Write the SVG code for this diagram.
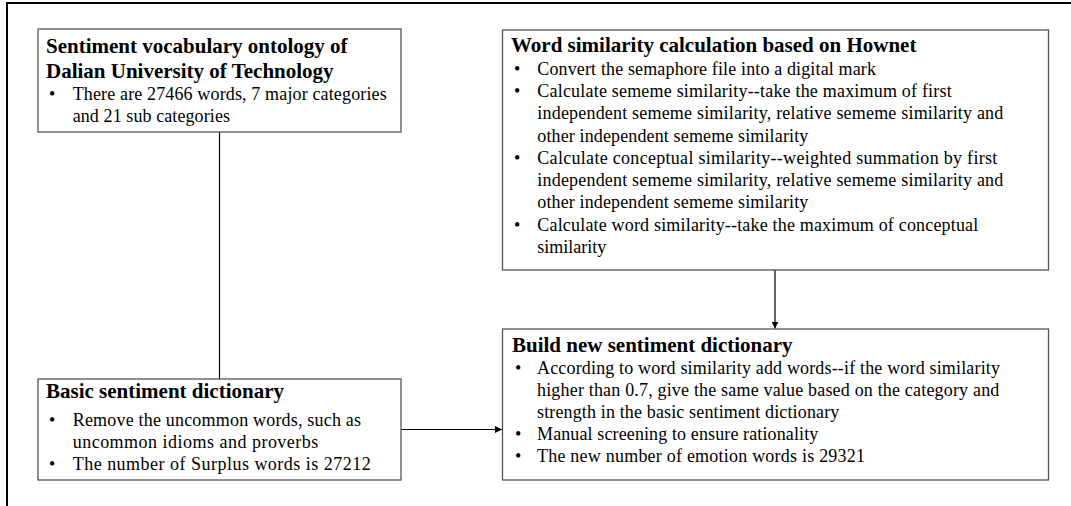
<svg xmlns="http://www.w3.org/2000/svg" width="1071" height="506" viewBox="0 0 1071 506">
<style>
.frame{fill:none;stroke:#000;stroke-width:2}
.box{fill:#fff;stroke:#555;stroke-width:1.3}
.t{font-family:"Liberation Serif","Times New Roman",serif;font-weight:bold;font-size:21px;fill:#000}
.b{font-family:"Liberation Serif","Times New Roman",serif;font-size:18px;fill:#000}
.c{fill:none;stroke:#000;stroke-width:1.2}
</style>
<defs>
<marker id="ah" viewBox="0 0 10 10" refX="10" refY="5" markerWidth="7" markerHeight="7" markerUnits="userSpaceOnUse" orient="auto">
<path d="M0,0 L10,5 L0,10 z" fill="#000"/>
</marker>
</defs>
<rect width="1071" height="506" fill="#fff"/>
<path class="frame" d="M7,600 V3 H1100"/>
<g id="connectors">
<line class="c" x1="219.5" y1="132" x2="219.5" y2="379"/>
<line class="c" x1="775" y1="270" x2="775" y2="328.5" marker-end="url(#ah)"/>
<line class="c" x1="401" y1="429.5" x2="502" y2="429.5" marker-end="url(#ah)"/>
</g>
<g id="node-ontology">
<rect class="box" x="38" y="29" width="363" height="103"/>
<text class="t" x="46" y="52.7">Sentiment vocabulary ontology of</text>
<text class="t" x="46" y="77.7">Dalian University of Technology</text>
<text class="b" x="49" y="100">•</text>
<text class="b" x="72.7" y="100" textLength="314" lengthAdjust="spacing">There are 27466 words, 7 major categories</text>
<text class="b" x="72.7" y="121.7" textLength="157.3" lengthAdjust="spacing">and 21 sub categories</text>
</g>
<g id="node-hownet">
<rect class="box" x="502.5" y="30" width="546" height="240"/>
<text class="t" x="511" y="51.7">Word similarity calculation based on Hownet</text>
<text class="b" x="514" y="75">•</text>
<text class="b" x="537.3" y="75" textLength="338.7" lengthAdjust="spacing">Convert the semaphore file into a digital mark</text>
<text class="b" x="514" y="97.3">•</text>
<text class="b" x="537.3" y="97.3" textLength="414.4" lengthAdjust="spacing">Calculate sememe similarity--take the maximum of first</text>
<text class="b" x="537.3" y="119.3" textLength="466" lengthAdjust="spacing">independent sememe similarity, relative sememe similarity and</text>
<text class="b" x="537.3" y="141.7" textLength="271" lengthAdjust="spacing">other independent sememe similarity</text>
<text class="b" x="514" y="164">•</text>
<text class="b" x="537.3" y="164" textLength="460" lengthAdjust="spacing">Calculate conceptual similarity--weighted summation by first</text>
<text class="b" x="537.3" y="186" textLength="466" lengthAdjust="spacing">independent sememe similarity, relative sememe similarity and</text>
<text class="b" x="537.3" y="208.3" textLength="271" lengthAdjust="spacing">other independent sememe similarity</text>
<text class="b" x="514" y="230.7">•</text>
<text class="b" x="537.3" y="230.7" textLength="441" lengthAdjust="spacing">Calculate word similarity--take the maximum of conceptual</text>
<text class="b" x="537.3" y="252.7">similarity</text>
</g>
<g id="node-basic">
<rect class="box" x="38" y="379" width="363" height="101"/>
<text class="t" x="46" y="398.3">Basic sentiment dictionary</text>
<text class="b" x="49" y="426">•</text>
<text class="b" x="72.7" y="426" textLength="288.3" lengthAdjust="spacing">Remove the uncommon words, such as</text>
<text class="b" x="72.7" y="447.5" textLength="245.6" lengthAdjust="spacing">uncommon idioms and proverbs</text>
<text class="b" x="49" y="470">•</text>
<text class="b" x="72.7" y="470" textLength="298" lengthAdjust="spacing">The number of Surplus words is 27212</text>
</g>
<g id="node-new">
<rect class="box" x="502.5" y="329" width="546" height="151"/>
<text class="t" x="512" y="351.7">Build new sentiment dictionary</text>
<text class="b" x="515" y="374">•</text>
<text class="b" x="537" y="374" textLength="463" lengthAdjust="spacing">According to word similarity add words--if the word similarity</text>
<text class="b" x="537" y="396" textLength="462.3" lengthAdjust="spacing">higher than 0.7, give the same value based on the category and</text>
<text class="b" x="537" y="418.3" textLength="302.3" lengthAdjust="spacing">strength in the basic sentiment dictionary</text>
<text class="b" x="515" y="440">•</text>
<text class="b" x="537" y="440" textLength="281.3" lengthAdjust="spacing">Manual screening to ensure rationality</text>
<text class="b" x="515" y="462.3">•</text>
<text class="b" x="537" y="462.3" textLength="328" lengthAdjust="spacing">The new number of emotion words is 29321</text>
</g>
</svg>
